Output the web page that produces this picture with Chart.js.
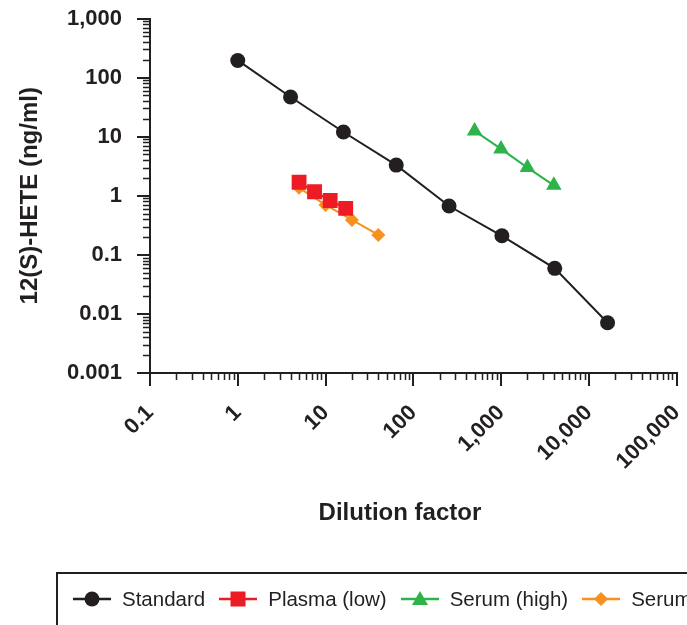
<!DOCTYPE html>
<html>
<head>
<meta charset="utf-8">
<script src="https://cdn.jsdelivr.net/npm/chart.js@4.4.1/dist/chart.umd.min.js"></script>
<style>
    html, body { margin:0; padding:0; background:#fff; overflow:hidden; width:687px; height:625px; }
    #wrap { position:relative; width:687px; height:625px; }
    #legend {
        position:absolute; left:56px; top:572px; width:720px; height:80px;
        border:2px solid #231f20; box-sizing:border-box;
        display:flex; align-items:center; padding:0 0 26px 15px;
        font-family:"Liberation Sans", Arial, sans-serif; font-size:20.5px; color:#231f20;
        white-space:nowrap;
    }
    .item { display:flex; align-items:center; margin-right:14px; }
    .item svg { margin-right:11px; }
</style>
</head>
<body>
<div id="wrap">
    <canvas id="chart" width="687" height="625"></canvas>
    <div id="legend"></div>
</div>
<script>
const xTickValues = [0.1, 1, 10, 100, 1000, 10000, 100000];
const xTickLabels = ['0.1', '1', '10', '100', '1,000', '10,000', '100,000'];
const yTickValues = [0.001, 0.01, 0.1, 1, 10, 100, 1000];
const yTickLabels = ['0.001', '0.01', '0.1', '1', '10', '100', '1,000'];

const seriesNames = ['Standard', 'Plasma (low)', 'Serum (high)', 'Serum (low)'];

const standardX = [1, 4, 16, 64, 256, 1024, 4096, 16384];
const standardY = [195, 47, 12, 3.3, 0.67, 0.21, 0.059, 0.0071];
const plasmaLowX = [5, 7.5, 11.3, 17];
const plasmaLowY = [1.69, 1.17, 0.83, 0.61];
const serumHighX = [500, 1000, 2000, 4000];
const serumHighY = [12.5, 6.2, 3.0, 1.5];
const serumLowX = [5, 10, 20, 40];
const serumLowY = [1.36, 0.70, 0.39, 0.217];

const INK = '#231f20';
const FONT = '"Liberation Sans", Arial, sans-serif';

const pts = (xs, ys) => xs.map((x, i) => ({ x: x, y: ys[i] }));

// short minor ticks at 2..9 of each decade, the library only draws the majors
const minorTicks = {
    id: 'minorTicks',
    afterDraw(chart) {
        const ctx = chart.ctx;
        const xs = chart.scales.x, ys = chart.scales.y;
        const area = chart.chartArea;
        ctx.save();
        ctx.strokeStyle = INK;
        ctx.lineWidth = 1.5;
        ctx.beginPath();
        for (let e = -1; e < 5; e++) {
            for (let m = 2; m <= 9; m++) {
                const px = Math.round(xs.getPixelForValue(m * Math.pow(10, e))) + 0.5;
                ctx.moveTo(px, area.bottom);
                ctx.lineTo(px, area.bottom + 7);
            }
        }
        for (let e = -3; e < 3; e++) {
            for (let m = 2; m <= 9; m++) {
                const py = Math.round(ys.getPixelForValue(m * Math.pow(10, e))) + 0.5;
                ctx.moveTo(area.left, py);
                ctx.lineTo(area.left - 7, py);
            }
        }
        ctx.stroke();
        ctx.restore();
    }
};

const axisFont = { family: FONT, size: 22, weight: 'bold' };
const titleFont = { family: FONT, size: 24, weight: 'bold' };

new Chart(document.getElementById('chart'), {
    type: 'scatter',
    data: {
        datasets: [
            {
                label: seriesNames[0], data: pts(standardX, standardY),
                showLine: true, borderColor: INK, backgroundColor: INK, borderWidth: 2,
                pointStyle: 'circle', pointRadius: 7.5, pointBorderWidth: 0
            },
            {
                label: seriesNames[1], data: pts(plasmaLowX, plasmaLowY),
                showLine: true, borderColor: '#ed1c24', backgroundColor: '#ed1c24', borderWidth: 2,
                pointStyle: 'rect', pointRadius: 10.5, pointBorderWidth: 0
            },
            {
                label: seriesNames[2], data: pts(serumHighX, serumHighY),
                showLine: true, borderColor: '#2db34a', backgroundColor: '#2db34a', borderWidth: 2,
                pointStyle: 'triangle', pointRadius: 9, pointBorderWidth: 0
            },
            {
                label: seriesNames[3], data: pts(serumLowX, serumLowY),
                showLine: true, borderColor: '#f7901e', backgroundColor: '#f7901e', borderWidth: 2,
                pointStyle: 'rectRot', pointRadius: 7, pointBorderWidth: 0
            }
        ]
    },
    options: {
        responsive: false,
        animation: false,
        layout: { padding: { left: 12, top: 18.5, right: 6.5, bottom: 93.5 } },
        plugins: { legend: { display: false }, tooltip: { enabled: false } },
        scales: {
            x: {
                type: 'logarithmic', min: 0.1, max: 100000,
                afterBuildTicks: s => { s.ticks = xTickValues.map(v => ({ value: v })); },
                afterFit: s => { s.height = 158.5; s.paddingLeft = 0; s.paddingRight = 0; },
                grid: { drawOnChartArea: false, drawTicks: true, tickLength: 13, lineWidth: 2, color: INK },
                border: { display: true, color: INK, width: 2 },
                ticks: {
                    autoSkip: false, minRotation: 45, maxRotation: 45, padding: 14,
                    color: INK, font: axisFont,
                    callback: (v, i) => xTickLabels[i]
                },
                // trailing spaces nudge the centred title a little left, as in the original
                title: { display: true, text: 'Dilution factor    ', color: INK, font: titleFont, padding: { top: 4, bottom: 4 } }
            },
            y: {
                type: 'logarithmic', min: 0.001, max: 1000,
                afterBuildTicks: s => { s.ticks = yTickValues.map(v => ({ value: v })); },
                afterFit: s => { s.width = 138; s.paddingTop = 0; s.paddingBottom = 0; },
                grid: { drawOnChartArea: false, drawTicks: true, tickLength: 13, lineWidth: 2, color: INK },
                border: { display: true, color: INK, width: 2 },
                ticks: {
                    autoSkip: false, padding: 15,
                    color: INK, font: axisFont,
                    callback: (v, i) => yTickLabels[i]
                },
                title: { display: true, text: '12(S)-HETE (ng/ml)', color: INK, font: titleFont, padding: { top: 4, bottom: 4 } }
            }
        }
    },
    plugins: [minorTicks]
});

// legend in html, the box runs past the right edge of the window like the original
const legendMarks = [
    { color: INK, shape: '<circle cx="19" cy="12" r="7.5"/>' },
    { color: '#ed1c24', shape: '<rect x="11.5" y="4.5" width="15" height="15"/>' },
    { color: '#2db34a', shape: '<polygon points="19,4 27,18 11,18"/>' },
    { color: '#f7901e', shape: '<polygon points="19,5 26,12 19,19 12,12"/>' }
];
document.getElementById('legend').innerHTML = seriesNames.map((name, i) => `
    <div class="item">
        <svg width="38" height="24" fill="${legendMarks[i].color}">
            <line x1="0" y1="12" x2="38" y2="12" stroke="${legendMarks[i].color}" stroke-width="2.5"/>
            ${legendMarks[i].shape}
        </svg>
        <span>${name}</span>
    </div>
`).join('');
</script>
</body>
</html>
